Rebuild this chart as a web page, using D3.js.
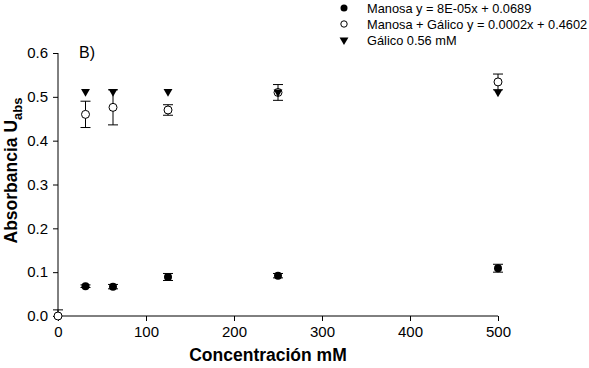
<!DOCTYPE html>
<html>
<head>
<meta charset="utf-8">
<script src="https://cdn.jsdelivr.net/npm/d3@7"></script>
<style>
  body { margin: 0; background: #fff; }
  text { font-family: Arial, "Liberation Sans", sans-serif; }
</style>
</head>
<body>
<div id="chart"></div>
<script>
// data
const conc = [31.25, 62.5, 125, 250, 500];
const manosa = [0.068, 0.067, 0.089, 0.092, 0.109];
const manosaErr = [0.003, 0.005, 0.008, 0.005, 0.009];
const concMG = [0, 31.25, 62.5, 125, 250, 500];
const manosaGalico = [0.0, 0.46, 0.476, 0.47, 0.51, 0.534];
const manosaGalicoErr = [0.014, 0.03, 0.04, 0.012, 0.018, 0.018];
const galico = [0.512, 0.512, 0.512, 0.511, 0.511];
const xTicks = [0, 100, 200, 300, 400, 500];
const yTicks = [0, 0.1, 0.2, 0.3, 0.4, 0.5, 0.6];
const legendLabels = ["Manosa y = 8E-05x + 0.0689", "Manosa + Gálico y = 0.0002x + 0.4602", "Gálico 0.56 mM"];

const W = 589, H = 368;
const margin = {top: 53, right: 91, bottom: 52, left: 58},
  width = W - margin.left - margin.right,
  height = H - margin.top - margin.bottom;

const svg = d3.select("#chart")
  .append("svg")
  .attr("width", W)
  .attr("height", H);

const g = svg.append("g")
  .attr("transform", `translate(${margin.left}, ${margin.top})`);

const x = d3.scaleLinear().domain([0, 500]).range([0, width]);
const y = d3.scaleLinear().domain([0, 0.6]).range([height, 0]);

// axes
const xAxis = g.append("g")
  .attr("transform", `translate(0, ${height})`)
  .call(d3.axisBottom(x).tickValues(xTicks).tickSize(5).tickPadding(5));
const yAxis = g.append("g")
  .call(d3.axisLeft(y).tickValues(yTicks).tickFormat(d3.format(".1f")).tickSize(5).tickPadding(5));

[xAxis, yAxis].forEach(a => {
  a.select(".domain").attr("stroke", "#000").attr("stroke-width", 1);
  a.selectAll(".tick line").attr("stroke", "#000");
  a.selectAll(".tick text").attr("font-size", 15).attr("fill", "#000")
    .style("font-family", "Arial, 'Liberation Sans', sans-serif");
});
// axis lines without outer ticks
xAxis.select(".domain").attr("d", `M0,0H${width}`);
yAxis.select(".domain").attr("d", `M0,0V${height}`);

// axis titles
g.append("text")
  .attr("x", width / 2 - 10)
  .attr("y", height + 45)
  .attr("text-anchor", "middle")
  .attr("font-size", 17.5)
  .attr("font-weight", "bold")
  .text("Concentración mM");

const yt = g.append("text")
  .attr("transform", `translate(${-41}, ${height / 2 - 14}) rotate(-90)`)
  .attr("text-anchor", "middle")
  .attr("font-size", 17.5)
  .attr("font-weight", "bold");
yt.append("tspan").text("Absorbancia U");
yt.append("tspan").attr("font-size", 13).attr("dy", 5).text("abs");

g.append("text")
  .attr("x", 21)
  .attr("y", 5)
  .attr("font-size", 16)
  .text("B)");

// error bars
function errorBars(xs, ys, es) {
  const eg = g.append("g").attr("stroke", "#000").attr("stroke-width", 1);
  xs.forEach((xv, i) => {
    const cx = x(xv), y1 = y(ys[i] + es[i]), y0 = y(ys[i] - es[i]);
    eg.append("line").attr("x1", cx).attr("x2", cx).attr("y1", y1).attr("y2", Math.min(y0, height));
    eg.append("line").attr("x1", cx - 5).attr("x2", cx + 5).attr("y1", y1).attr("y2", y1);
    if (ys[i] - es[i] >= 0)
      eg.append("line").attr("x1", cx - 5).attr("x2", cx + 5).attr("y1", y0).attr("y2", y0);
  });
}
errorBars(concMG, manosaGalico, manosaGalicoErr);
errorBars(conc, manosa, manosaErr);

// Manosa + Gálico (open circles)
g.append("g").selectAll("circle")
  .data(concMG)
  .join("circle")
  .attr("cx", d => x(d))
  .attr("cy", (d, i) => y(manosaGalico[i]))
  .attr("r", 4)
  .attr("fill", "#fff")
  .attr("stroke", "#000")
  .attr("stroke-width", 1);

// Manosa (filled circles)
g.append("g").selectAll("circle")
  .data(conc)
  .join("circle")
  .attr("cx", d => x(d))
  .attr("cy", (d, i) => y(manosa[i]))
  .attr("r", 4)
  .attr("fill", "#000");

// Gálico (triangles down)
const tri = d3.symbol().type(d3.symbolTriangle).size(34);
g.append("g").selectAll("path")
  .data(conc)
  .join("path")
  .attr("d", tri)
  .attr("transform", (d, i) => `translate(${x(d)}, ${y(galico[i])}) rotate(180)`)
  .attr("fill", "#000");

// legend
const leg = svg.append("g").attr("transform", "translate(344, 8)");
legendLabels.forEach((lab, i) => {
  const row = leg.append("g").attr("transform", `translate(0, ${i * 16})`);
  if (i === 0) row.append("circle").attr("r", 3.5).attr("fill", "#000");
  if (i === 1) row.append("circle").attr("r", 3.2).attr("fill", "#fff").attr("stroke", "#000");
  if (i === 2) row.append("path").attr("d", tri).attr("transform", "rotate(180)").attr("fill", "#000");
  row.append("text")
    .attr("x", 23)
    .attr("y", 5)
    .attr("font-size", 12.8)
    .text(lab);
});
</script>
</body>
</html>
